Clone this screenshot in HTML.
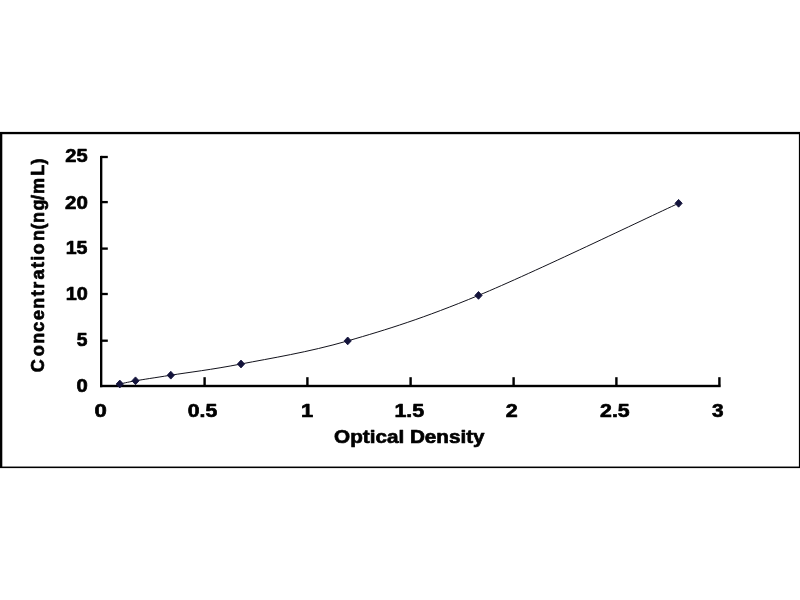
<!DOCTYPE html>
<html lang="en"><head><meta charset="utf-8"><title>Standard Curve</title>
<style>
html,body{margin:0;padding:0;background:#fff;width:800px;height:600px;overflow:hidden;position:relative}
svg{display:block;position:absolute;left:-20px;top:-20px;filter:blur(0.4px)}
text{font-family:"Liberation Sans",sans-serif;font-weight:bold;fill:#000;stroke:#000;stroke-width:0.7px;vector-effect:non-scaling-stroke;stroke-linejoin:round}
</style></head><body>
<svg width="840" height="640" viewBox="-20 -20 840 640">
<rect x="-20" y="-20" width="840" height="640" fill="#fff"/>
<g fill="#000">
<rect x="-20" y="131.9" width="840" height="2.3"/>
<rect x="-20" y="132" width="22.3" height="336"/>
<rect x="798.9" y="132" width="21" height="336"/>
<rect x="-20" y="466.55" width="840" height="1.55"/>
<rect x="100" y="155.9" width="2.35" height="231.3"/>
<rect x="100" y="384.8" width="620.7" height="2.4"/>
<rect x="203.40" y="377.2" width="2.4" height="8"/>
<rect x="306.20" y="377.2" width="2.4" height="8"/>
<rect x="409.40" y="377.2" width="2.4" height="8"/>
<rect x="512.40" y="377.2" width="2.4" height="8"/>
<rect x="615.20" y="377.2" width="2.4" height="8"/>
<rect x="718.20" y="377.2" width="2.4" height="8"/>
<rect x="101" y="155.85" width="6.8" height="2.3"/>
<rect x="101" y="200.95" width="6.8" height="2.3"/>
<rect x="101" y="247.45" width="6.8" height="2.3"/>
<rect x="101" y="292.85" width="6.8" height="2.3"/>
<rect x="101" y="339.55" width="6.8" height="2.3"/>
</g>
<path d="M119.80 384.00 C122.42 383.47 127.00 382.27 135.50 380.80 C144.00 379.33 153.22 378.00 170.80 375.20 C188.38 372.40 211.52 369.72 241.00 364.00 C270.48 358.28 308.12 352.33 347.70 340.90 C387.28 329.47 423.35 318.33 478.50 295.40 C533.65 272.47 645.25 218.65 678.60 203.30" fill="none" stroke="#05050f" stroke-width="0.95"/>
<path d="M116.20 384.00L119.80 380.10L123.40 384.00L119.80 387.90Z" fill="#13133b" stroke="#13133b" stroke-width="0.9" stroke-linejoin="round"/>
<path d="M131.90 380.80L135.50 376.90L139.10 380.80L135.50 384.70Z" fill="#13133b" stroke="#13133b" stroke-width="0.9" stroke-linejoin="round"/>
<path d="M167.20 375.20L170.80 371.30L174.40 375.20L170.80 379.10Z" fill="#13133b" stroke="#13133b" stroke-width="0.9" stroke-linejoin="round"/>
<path d="M237.40 364.00L241.00 360.10L244.60 364.00L241.00 367.90Z" fill="#13133b" stroke="#13133b" stroke-width="0.9" stroke-linejoin="round"/>
<path d="M344.10 340.90L347.70 337.00L351.30 340.90L347.70 344.80Z" fill="#13133b" stroke="#13133b" stroke-width="0.9" stroke-linejoin="round"/>
<path d="M474.90 295.40L478.50 291.50L482.10 295.40L478.50 299.30Z" fill="#13133b" stroke="#13133b" stroke-width="0.9" stroke-linejoin="round"/>
<path d="M675.00 203.30L678.60 199.40L682.20 203.30L678.60 207.20Z" fill="#13133b" stroke="#13133b" stroke-width="0.9" stroke-linejoin="round"/>
<text transform="matrix(1.2281 0 0 0.9820 94.47 416.50)" font-size="18">0</text>
<text transform="matrix(1.1740 0 0 0.9820 187.80 416.50)" font-size="18">0.5</text>
<text transform="matrix(1.2200 0 0 0.9820 301.02 416.50)" font-size="18">1</text>
<text transform="matrix(1.1880 0 0 0.9820 394.46 416.50)" font-size="18">1.5</text>
<text transform="matrix(1.1921 0 0 0.9820 505.80 416.50)" font-size="18">2</text>
<text transform="matrix(1.1821 0 0 0.9820 600.11 416.50)" font-size="18">2.5</text>
<text transform="matrix(1.1560 0 0 0.9820 712.03 416.50)" font-size="18">3</text>
<text transform="matrix(1.1164 0 0 0.9703 65.25 162.48)" font-size="18">25</text>
<text transform="matrix(1.1379 0 0 0.9703 65.03 208.98)" font-size="18">20</text>
<text transform="matrix(1.0866 0 0 1.0000 65.73 254.37)" font-size="18">15</text>
<text transform="matrix(1.1028 0 0 1.0016 65.71 299.72)" font-size="18">10</text>
<text transform="matrix(1.0667 0 0 1.0159 76.77 346.37)" font-size="18">5</text>
<text transform="matrix(1.1228 0 0 1.0016 76.54 391.57)" font-size="18">0</text>
<text transform="matrix(1.1487 0 0 0.9923 334.12 443.40)" font-size="18">Optical Density</text>
<text transform="matrix(0 -1 1.0000 0 43.90 372.00)" font-size="18" x="-0.37 15.76 28.21 40.16 51.96 63.22 75.78 83.29 92.64 104.13 111.38 117.61 130.97 142.58 148.97 161.49 171.98 177.99 196.19 207.64">Concentration(ng/mL)</text>
</svg></body></html>
